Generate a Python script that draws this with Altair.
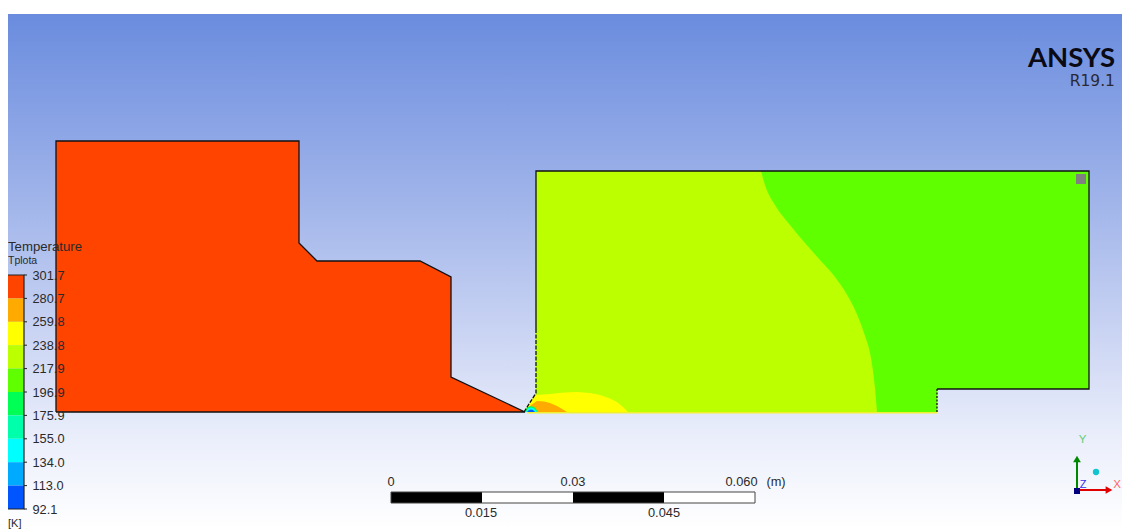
import altair as alt
import pandas as pd

# --- geometry (picture units) ---
left_x = [56, 56, 299, 299, 317, 420, 451, 451, 525]
left_top = [412, 141, 141, 243, 261, 261, 277, 377, 412]
right_x = [524, 536, 536, 937, 937, 1089]
right_top = [412, 393, 171, 171, 171, 171]
right_bot = [412, 412, 412, 412, 389, 389]
curve_x = [761, 765, 775, 790, 805, 820, 835, 846, 856, 864, 871, 875, 877]
curve_bot = [171, 185, 205, 225, 243, 260, 277, 293, 312, 333, 358, 388, 412]
green_x = [877, 937, 937, 1089]
green_bot = [412, 412, 389, 389]
yellow_x = [527, 531, 536, 543, 550, 564, 577, 590, 600, 610, 617, 623, 628]
yellow_top = [407, 401, 395, 394.5, 394, 392.5, 392, 393, 395, 398.5, 402, 407, 412]
orange_x = [526, 531, 537, 544, 550, 557, 563, 567]
orange_top = [410, 405, 401, 401.5, 403, 406, 409.5, 412]
gcyan_x = [525, 527, 531, 535, 538]
gcyan_top = [412, 407.5, 406, 407.5, 412]
cyan_x = [526, 528, 531, 534, 537]
cyan_top = [412, 408.5, 407.5, 408.5, 412]
blue_x = [527, 529, 531, 533, 535]
blue_top = [412, 410, 409.5, 410, 412]

outline_left_x = [56, 56, 299, 299, 317, 420, 451, 451, 525, 56]
outline_left_y = [412, 141, 141, 243, 261, 261, 277, 377, 412, 412]
outline_right_x = [536, 536, 1089, 1089, 937]
outline_right_y = [330, 171, 171, 389, 389]
dash_x = [524, 536, 536]
dash_y = [412, 393, 330]
dash2_x = [937, 937]
dash2_y = [389, 412]

band_colors = ["#FF4400", "#FFAA00", "#FFFF00", "#BBFF00", "#5FFF00",
               "#00FF55", "#00FFAA", "#00FFFF", "#00AAFF", "#0055FF"]
tick_labels = ["301.7", "280.7", "259.8", "238.8", "217.9", "196.9",
               "175.9", "155.0", "134.0", "113.0", "92.1"]
tick_y = [275, 298.4, 321.8, 345.2, 368.6, 392, 415.4, 438.8, 462.2, 485.6, 509]

scale_edges = [391, 482, 573, 664, 755]
scale_fill = ["black", "white", "black", "white"]

W, H = 1114, 521
DOM_X = [0, W]
DOM_Y = [H, 0]


def X(f="x"):
    return alt.X(f"{f}:Q", scale=alt.Scale(domain=DOM_X, nice=False, zero=False), axis=None)


def Y(f="y"):
    return alt.Y(f"{f}:Q", scale=alt.Scale(domain=DOM_Y, nice=False, zero=False), axis=None)


def px(v):
    return v - 8


def py(v):
    return v - 8


def area(xs, tops, bots, color, interp="linear"):
    df = pd.DataFrame({"x": [px(a) for a in xs], "y": [py(a) for a in tops],
                       "y2": [py(a) for a in bots]})
    return alt.Chart(df).mark_area(color=color, interpolate=interp).encode(
        x=X(), y=Y(), y2="y2:Q")


def line(xs, ys, color="#111111", width=1.3, dash=None):
    df = pd.DataFrame({"x": [px(a) for a in xs], "y": [py(a) for a in ys], "i": range(len(xs))})
    kw = {"strokeDash": dash} if dash else {}
    return alt.Chart(df).mark_line(color=color, strokeWidth=width, **kw).encode(
        x=X(), y=Y(), order="i:Q")


def rect(x0, x1, y0, y1, color, **kw):
    df = pd.DataFrame({"x": [px(x0)], "x2": [px(x1)], "y": [py(y0)], "y2": [py(y1)]})
    return alt.Chart(df).mark_rect(color=color, **kw).encode(x=X(), x2="x2:Q", y=Y(), y2="y2:Q")


def text(s, x, y, size=12.8, color="#2A2A2A", align="left", font="Liberation Sans", weight="normal"):
    df = pd.DataFrame({"x": [px(x)], "y": [py(y)], "t": [s]})
    return alt.Chart(df).mark_text(align=align, baseline="alphabetic", fontSize=size, color=color,
                                   font=font, fontWeight=weight).encode(x=X(), y=Y(), text="t:N")


def point(x, y, color, shape="circle", size=30):
    df = pd.DataFrame({"x": [px(x)], "y": [py(y)]})
    return alt.Chart(df).mark_point(filled=True, color=color, shape=shape, size=size, opacity=1).encode(
        x=X(), y=Y())


gradient = alt.LinearGradient(
    gradient="linear", x1=0, x2=0, y1=0, y2=1,
    stops=[
        alt.GradientStop(color="#6A8CDE", offset=0),
        alt.GradientStop(color="#A0B4EA", offset=0.36),
        alt.GradientStop(color="#CAD4F3", offset=0.62),
        alt.GradientStop(color="#EAEEFB", offset=0.82),
        alt.GradientStop(color="#FFFFFF", offset=1),
    ],
)

layers = [
    rect(8, 1122, 14, 529, gradient),
    area(left_x, left_top, [412] * len(left_x), "#FF4400"),
    area(right_x, right_top, right_bot, "#BBFF00"),
    area(curve_x, [171] * len(curve_x), curve_bot, "#5FFF00", "monotone"),
    area(green_x, [171] * len(green_x), green_bot, "#5FFF00"),
    area(yellow_x, yellow_top, [412] * len(yellow_x), "#FFFF00"),
    area(orange_x, orange_top, [412] * len(orange_x), "#FFAA00"),
    area(gcyan_x, gcyan_top, [412] * len(gcyan_x), "#00FF55"),
    area(cyan_x, cyan_top, [412] * len(cyan_x), "#00FFFF"),
    area(blue_x, blue_top, [412] * len(blue_x), "#0055FF"),
    line([527, 937], [412.7, 412.7], color="#F0F030", width=1.5),
    line(outline_left_x, outline_left_y),
    line(outline_right_x, outline_right_y),
    line(dash_x, dash_y, dash=[4, 1.5]),
    line(dash2_x, dash2_y, dash=[2, 1.5]),
    rect(1076, 1086, 174, 184, "#808080"),
]

# colour bar
for k, c in enumerate(band_colors):
    layers.append(rect(8, 24, tick_y[k], tick_y[k + 1], c))
layers.append(line([8, 24, 24, 8], [275, 275, 509, 509], color="#222222", width=1.2))
for ty, lab in zip(tick_y, tick_labels):
    layers.append(line([24, 27], [ty, ty], color="#222222", width=1))
    layers.append(text(lab, 32.5, ty + 4.5))
layers += [
    text("Temperature", 8, 251, size=13.2),
    text("Tplota", 8, 264, size=10.5),
    text("[K]", 8, 527, size=11),
]

# length scale
for a, b, c in zip(scale_edges[:-1], scale_edges[1:], scale_fill):
    layers.append(rect(a, b, 492, 503, c))
layers.append(line([391, 755, 755, 391, 391], [492, 492, 503, 503, 492], color="#444444", width=1))
layers += [
    text("0", 391, 486, align="center"),
    text("0.03", 573, 486, align="center"),
    text("0.060", 741.5, 486, align="center"),
    text("(m)", 776, 486, align="center"),
    text("0.015", 481, 517, align="center"),
    text("0.045", 664, 517, align="center"),
]

# triad
layers += [
    line([1077, 1077], [490, 462], color="#008800", width=2),
    line([1077, 1106], [490, 490], color="#E00000", width=2),
    point(1077, 459, "#008800", "triangle-up", 60),
    point(1109, 490, "#E00000", "triangle-right", 60),
    point(1077, 491, "#000080", "square", 36),
    point(1096, 472, "#11C5D0", "circle", 40),
    text("Y", 1082.5, 443, size=11.5, color="#66CC77", align="center"),
    text("X", 1117, 488, size=11.5, color="#FF6666", align="center"),
    text("Z", 1083, 488, size=11, color="#3333EE", align="center"),
]

# brand
layers += [
    text("ANSYS", 1115, 67, size=27.5, color="#0A0A14", align="right",
         font="Lato", weight="bold"),
    text("R19.1", 1115, 86, size=15.5, color="#2A2A35", align="right", font="DejaVu Sans"),
]

chart = (
    alt.layer(*layers)
    .properties(width=W, height=H, padding=0, autosize=alt.AutoSizeParams(type="none"))
    .configure_view(stroke=None)
)
chart.save("out.html", embed_options={"renderer": "svg", "actions": False})
